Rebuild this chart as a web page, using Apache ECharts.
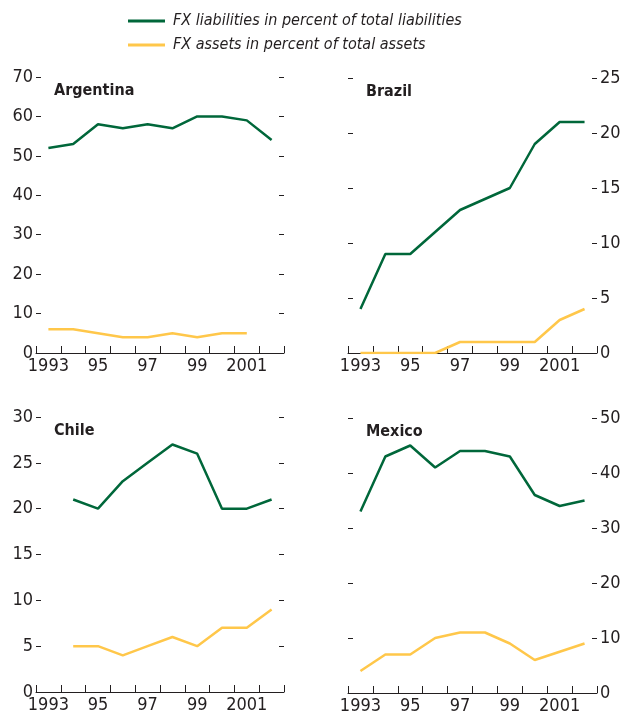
<!DOCTYPE html>
<html>
<head>
<meta charset="utf-8">
<script src="https://cdn.jsdelivr.net/npm/echarts@6/dist/echarts.min.js"></script>
<style>
  html, body { margin: 0; padding: 0; background: #fff; }
  #chartDiv { width: 625px; height: 718px; }
</style>
</head>
<body>
<div id="chartDiv"></div>
<script>
// 数据
const years = ['1993', '1994', '1995', '1996', '1997', '1998', '1999', '2000', '2001', '2002'];
const xLabels = ['1993', '', '95', '', '97', '', '99', '', '2001', ''];

const argentinaLiab = [52, 53, 58, 57, 58, 57, 60, 60, 59, 54];
const argentinaAsset = [6, 6, 5, 4, 4, 5, 4, 5, 5, null];
const brazilLiab = [4, 9, 9, 11, 13, 14, 15, 19, 21, 21];
const brazilAsset = [0, 0, 0, 0, 1, 1, 1, 1, 3, 4];
const chileLiab = [null, 21, 20, 23, 25, 27, 26, 20, 20, 21];
const chileAsset = [null, 5, 5, 4, 5, 6, 5, 7, 7, 9];
const mexicoLiab = [33, 43, 45, 41, 44, 44, 43, 36, 34, 35];
const mexicoAsset = [4, 7, 7, 10, 11, 11, 9, 6, 7.5, 9];

const liabName = 'FX liabilities in percent of total liabilities';
const assetName = 'FX assets in percent of total assets';

const font = '"Liberation Sans Narrow", "DejaVu Sans Condensed", sans-serif';
const green = '#00673a';
const yellow = '#ffc74a';
const ink = '#231f20';

// 面板设置
const panels = [
	{name: 'Argentina', liab: argentinaLiab, asset: argentinaAsset, max: 70, interval: 10, side: 'left',
		grid: {left: 36, top: 77, width: 248, height: 276}},
	{name: 'Brazil', liab: brazilLiab, asset: brazilAsset, max: 25, interval: 5, side: 'right',
		grid: {left: 348, top: 78, width: 249, height: 275}},
	{name: 'Chile', liab: chileLiab, asset: chileAsset, max: 30, interval: 5, side: 'left',
		grid: {left: 36, top: 417, width: 248, height: 275}},
	{name: 'Mexico', liab: mexicoLiab, asset: mexicoAsset, max: 50, interval: 10, side: 'right',
		grid: {left: 348, top: 418, width: 249, height: 275}}
];

let option = {
	backgroundColor: '#fff',
	animation: false,
	textStyle: {fontFamily: font},
	legend: {
		left: 128,
		top: 12,
		padding: 0,
		orient: 'vertical',
		icon: 'rect',
		itemWidth: 37,
		itemHeight: 3,
		itemGap: 6,
		data: [liabName, assetName],
		textStyle: {
			fontFamily: font,
			fontStyle: 'italic',
			fontSize: 16,
			lineHeight: 18,
			color: ink,
			padding: [0, 0, 0, 3]
		}
	},
	title: [],
	grid: [],
	xAxis: [],
	yAxis: [],
	series: []
};

panels.forEach(function (p, i) {
	option.grid.push(p.grid);
	option.title.push({
		text: p.name,
		left: p.grid.left + 18,
		top: p.grid.top + 6,
		padding: 0,
		textStyle: {fontFamily: font, fontSize: 16, fontWeight: 'bold', color: ink}
	});
	option.xAxis.push({
		type: 'category',
		gridIndex: i,
		data: years,
		boundaryGap: true,
		axisLine: {lineStyle: {color: ink, width: 1}},
		axisTick: {show: true, inside: true, length: 7, interval: 0, lineStyle: {color: ink}},
		axisLabel: {
			interval: 0,
			margin: 4,
			fontSize: 18,
			color: ink,
			fontFamily: font,
			formatter(value, index) { return xLabels[index]; }
		},
		splitLine: {show: false}
	});
	['left', 'right'].forEach(function (pos) {
		option.yAxis.push({
			type: 'value',
			gridIndex: i,
			position: pos,
			min: 0,
			max: p.max,
			interval: p.interval,
			axisLine: {show: false},
			axisTick: {show: true, inside: true, length: 5, lineStyle: {color: ink}},
			axisLabel: {
				show: pos == p.side,
				margin: 3,
				fontSize: 18,
				color: ink,
				fontFamily: font
			},
			splitLine: {show: false}
		});
	});
	let yIndex = i * 2 + (p.side == 'left' ? 0 : 1);
	[[liabName, p.liab, green], [assetName, p.asset, yellow]].forEach(function (s) {
		option.series.push({
			name: s[0],
			type: 'line',
			xAxisIndex: i,
			yAxisIndex: yIndex,
			data: s[1],
			symbol: 'none',
			connectNulls: false,
			lineStyle: {color: s[2], width: 2.5},
			itemStyle: {color: s[2]},
			z: 5
		});
	});
});

let myChart = echarts.init(document.getElementById('chartDiv'));
myChart.setOption(option);
</script>
</body>
</html>
